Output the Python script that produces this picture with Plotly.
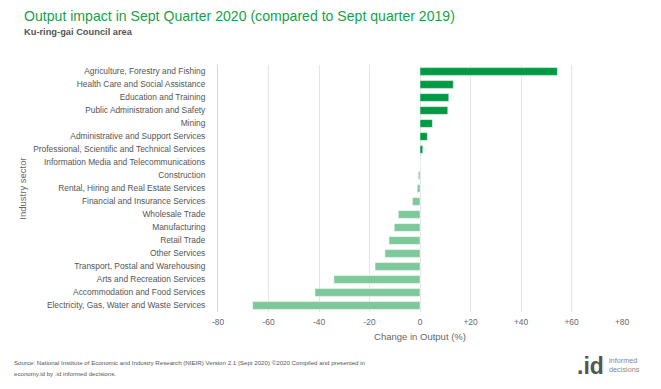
import plotly.graph_objects as go

categories = [
    "Agriculture, Forestry and Fishing",
    "Health Care and Social Assistance",
    "Education and Training",
    "Public Administration and Safety",
    "Mining",
    "Administrative and Support Services",
    "Professional, Scientific and Technical Services",
    "Information Media and Telecommunications",
    "Construction",
    "Rental, Hiring and Real Estate Services",
    "Financial and Insurance Services",
    "Wholesale Trade",
    "Manufacturing",
    "Retail Trade",
    "Other Services",
    "Transport, Postal and Warehousing",
    "Arts and Recreation Services",
    "Accommodation and Food Services",
    "Electricity, Gas, Water and Waste Services",
]
values = [54.4, 13.2, 11.4, 11.0, 4.9, 2.9, 1.1, 0.0, -0.7, -1.1, -3.0,
          -8.6, -10.2, -12.3, -13.9, -17.8, -34.1, -41.6, -66.3]
tick_vals = [-80, -60, -40, -20, 0, 20, 40, 60, 80]
tick_text = ["-80", "-60", "-40", "-20", "0", "+20", "+40", "+60", "+80"]

POS = "#009A44"
NEG = "#7DC99B"
colors = [POS if v >= 0 else NEG for v in values]

# page has an 8px body margin; compensate
OFF = 8
W, H = 661 - OFF, 389 - OFF
PL, PT, PR, PB = 218, 65, 622, 312   # plot area in page pixels
PW, PH = PR - PL, PB - PT
L, T = PL - OFF, PT - OFF
R, B = W - L - PW, H - T - PH

def px(x):
    return (x - PL) / PW

def py(y):
    return (PB - y) / PH

fig = go.Figure(go.Bar(
    x=values, y=categories, orientation="h",
    marker=dict(color=colors, line=dict(color="white", width=0.5)),
    width=0.6, hoverinfo="x+y",
))

font = "Liberation Sans, Arial, sans-serif"
fig.update_layout(
    width=W, height=H,
    margin=dict(l=L, r=R, t=T, b=B, autoexpand=False),
    paper_bgcolor="white", plot_bgcolor="white",
    showlegend=False,
    font=dict(family=font, color="#666666", size=8.4),
    xaxis=dict(range=[-80, 80], tickvals=tick_vals, ticktext=tick_text,
               showgrid=True, gridcolor="#E6E6E6", gridwidth=1,
               zeroline=False, showline=False, ticks="",
               ticklabelstandoff=4,
               tickfont=dict(size=8.4, color="#666666"),
               title=dict(text="Change in Output (%)", font=dict(size=9.5, color="#666666"), standoff=6),
               fixedrange=True),
    yaxis=dict(categoryorder="array", categoryarray=categories[::-1],
               showgrid=False, showline=True, linecolor="#CCD6EB", linewidth=1,
               ticks="", ticklabelstandoff=10,
               tickfont=dict(size=8.4, color="#555555"),
               title=dict(text="Industry sector", font=dict(size=9.5, color="#666666"), standoff=4),
               fixedrange=True),
    annotations=[
        dict(text="Output impact in Sept Quarter 2020 (compared to Sept quarter 2019)",
             xref="paper", yref="paper", x=px(22), y=py(16), xanchor="left", yanchor="middle",
             showarrow=False, font=dict(size=14.1, color="#1BA04A", family=font)),
        dict(text="<b>Ku-ring-gai Council area</b>",
             xref="paper", yref="paper", x=px(22), y=py(31.5), xanchor="left", yanchor="middle",
             showarrow=False, font=dict(size=9.3, color="#555555", family=font)),
        dict(text="Source: National Institute of Economic and Industry Research (NIEIR) Version 2.1 (Sept 2020) ©2020 Compiled and presented in",
             xref="paper", yref="paper", x=px(12), y=py(362), xanchor="left", yanchor="middle",
             showarrow=False, font=dict(size=6.15, color="#555555", family=font)),
        dict(text="economy.id by .id informed decisions.",
             xref="paper", yref="paper", x=px(12), y=py(373), xanchor="left", yanchor="middle",
             showarrow=False, font=dict(size=6.15, color="#555555", family=font)),
        dict(text="<b>.id</b>",
             xref="paper", yref="paper", x=px(606), y=py(366), xanchor="right", yanchor="middle",
             showarrow=False, font=dict(size=23, color="#555555", family=font)),
        dict(text="informed<br>decisions",
             xref="paper", yref="paper", x=px(607), y=py(365), xanchor="left", yanchor="middle", align="left",
             showarrow=False, font=dict(size=7.3, color="#888888", family=font)),
    ],
)

fig.write_html("out.html")
